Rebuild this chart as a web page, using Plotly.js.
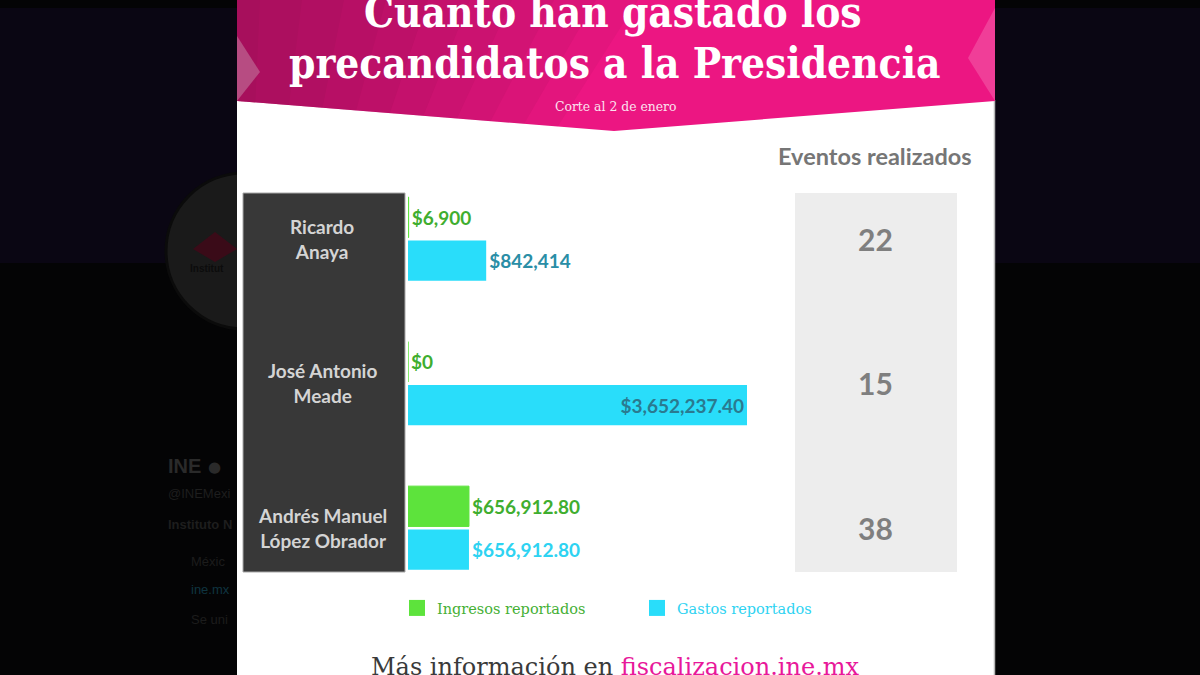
<!DOCTYPE html>
<html>
<head>
<meta charset="utf-8">
<script src="https://cdn.plot.ly/plotly-3.0.1.min.js"></script>
<style>html,body{margin:0;padding:0;background:#040405;}#chart{width:1200px;height:675px;}</style>
</head>
<body>
<div id="chart"></div>
<script>
// ---- data ----
const candidates = ["Ricardo Anaya", "José Antonio Meade", "Andrés Manuel López Obrador"];
const candidateLabels = ["Ricardo<br>Anaya", "José Antonio<br>Meade", "Andrés Manuel<br>López Obrador"];
const ingresos = [6900, 0, 656912.80];
const gastos = [842414, 3652237.40, 656912.80];
const eventos = [22, 15, 38];
const seriesNames = ["Ingresos reportados", "Gastos reportados"];

// ---- helpers ----
const W = 1200, H = 675;
const px = x => x / W;
const py = y => 1 - y / H;
function money(v) {
  const dec = Number.isInteger(v) ? 0 : 2;
  return "$" + v.toLocaleString("en-US", {minimumFractionDigits: dec, maximumFractionDigits: dec});
}
function pth(pts) {
  return "M" + pts.map(p => (p[0] / W) + "," + (1 - p[1] / H)).join(" L") + " Z";
}

const GREEN = "#5de33c", CYAN = "#29ddfa";
const FONT = "Lato, 'Open Sans', sans-serif";
const SERIF = "'DejaVu Serif', serif";
const SERIF_C = "'DejaVu Serif Condensed', 'DejaVu Serif', serif";

const traces = [
  {
    type: "bar", orientation: "h", name: seriesNames[0], showlegend: false,
    y: candidates, x: ingresos,
    marker: {color: GREEN, line: {color: GREEN, width: 1}},
    text: ingresos.map(money), textposition: "outside", cliponaxis: false,
    constraintext: "none",
    textfont: {family: FONT, size: 19, color: "#3fae2f", weight: 700},
    hoverinfo: "skip"
  },
  {
    type: "bar", orientation: "h", name: seriesNames[1], showlegend: false,
    y: candidates, x: gastos,
    marker: {color: CYAN},
    text: gastos.map(money),
    textposition: ["outside", "inside", "outside"], insidetextanchor: "end",
    cliponaxis: false, constraintext: "none",
    textfont: {family: FONT, size: 19, color: ["#2a8ea6", "#2a7a90", "#2ed3f2"], weight: 700},
    hoverinfo: "skip"
  },
  {
    type: "scatter", mode: "markers", x: [null], y: [null],
    name: '<span style="color:#45b035">' + seriesNames[0] + '</span>',
    marker: {symbol: "square", size: 19, color: GREEN}, hoverinfo: "skip"
  },
  {
    type: "scatter", mode: "markers", x: [null], y: [null],
    name: '<span style="color:#2ed3f2">' + seriesNames[1] + '</span>',
    marker: {symbol: "square", size: 19, color: CYAN}, hoverinfo: "skip"
  }
];

const shapes = [
  // dark page background
  {type: "rect", xref: "paper", yref: "paper", x0: 0, x1: 1, y0: 0, y1: 1, fillcolor: "#040405", line: {width: 0}, layer: "below"},
  {type: "rect", xref: "paper", yref: "paper", x0: 0, x1: 1, y0: py(263), y1: py(8), fillcolor: "#0a0613", line: {width: 0}, layer: "below"},
  {type: "circle", xref: "paper", yref: "paper", x0: px(166), x1: px(322), y0: py(329), y1: py(173), fillcolor: "#1a1a1a", line: {color: "#0b0b0b", width: 3}, layer: "below"},
  {type: "path", xref: "paper", yref: "paper", path: pth([[215, 232], [237, 249], [215, 262], [193, 249]]), fillcolor: "#3a0b18", line: {width: 0}, layer: "below"},
  // white card
  {type: "rect", xref: "paper", yref: "paper", x0: px(237), x1: px(995), y0: 0, y1: 1, fillcolor: "#ffffff", line: {width: 0}, layer: "below"},
  {type: "line", xref: "paper", yref: "paper", x0: px(994.5), x1: px(994.5), y0: 0, y1: py(100), line: {color: "#b8b8b8", width: 1.5}, layer: "below"},
  // pink header
  {type: "path", xref: "paper", yref: "paper", path: pth([[237, 0], [995, 0], [995, 101], [614, 131], [237, 101]]), fillcolor: "#ec1682", line: {width: 0}, layer: "below"}
];
// smooth dark gradient on the left of the header
for (let k = 0; k < 10; k++) {
  const w = 260 + k * 42;
  const xb = 237 + (w - 237) * 0.8;
  const yb = 101 + (xb - 237) * 30 / 377;
  shapes.push({type: "path", xref: "paper", yref: "paper", path: pth([[237, 0], [w, 0], [xb, yb], [237, 101]]),
    fillcolor: "#6a083c", opacity: 0.065, line: {width: 0}, layer: "below"});
}
shapes.push(
  {type: "path", xref: "paper", yref: "paper", path: pth([[237, 36], [260, 72], [237, 101]]), fillcolor: "#c88aa8", opacity: 0.5, line: {width: 0}, layer: "below"},
  {type: "path", xref: "paper", yref: "paper", path: pth([[995, 8], [968, 58], [995, 101]]), fillcolor: "#f45aa6", opacity: 0.6, line: {width: 0}, layer: "below"},
  // name panel & events panel
  {type: "rect", xref: "paper", yref: "paper", x0: px(243), x1: px(405), y0: py(572), y1: py(193), fillcolor: "#383838", line: {color: "#a8a8a8", width: 1}, layer: "below"},
  {type: "rect", xref: "paper", yref: "paper", x0: px(795), x1: px(957), y0: py(572), y1: py(193), fillcolor: "#ededed", line: {width: 0}, layer: "below"}
);

const annotations = [
  // faint background page texts
  {xref: "paper", yref: "paper", x: px(166), y: py(466), xanchor: "left", yanchor: "middle", text: "<b>INE</b>", showarrow: false, font: {family: "Liberation Sans, sans-serif", size: 20, color: "#2a2a2a"}},
  {xref: "paper", yref: "paper", x: px(206), y: py(467), xanchor: "left", yanchor: "middle", text: "●", showarrow: false, font: {family: "DejaVu Sans", size: 15, color: "#2a2a2a"}},
  {xref: "paper", yref: "paper", x: px(166), y: py(493), xanchor: "left", yanchor: "middle", text: "@INEMexi", showarrow: false, font: {family: "Liberation Sans, sans-serif", size: 13, color: "#1e1e1e"}},
  {xref: "paper", yref: "paper", x: px(166), y: py(524), xanchor: "left", yanchor: "middle", text: "<b>Instituto N</b>", showarrow: false, font: {family: "Liberation Sans, sans-serif", size: 13, color: "#1e1e1e"}},
  {xref: "paper", yref: "paper", x: px(189), y: py(561), xanchor: "left", yanchor: "middle", text: "Méxic", showarrow: false, font: {family: "Liberation Sans, sans-serif", size: 13, color: "#1c1c1c"}},
  {xref: "paper", yref: "paper", x: px(189), y: py(589), xanchor: "left", yanchor: "middle", text: "ine.mx", showarrow: false, font: {family: "Liberation Sans, sans-serif", size: 13, color: "#0f3440"}},
  {xref: "paper", yref: "paper", x: px(189), y: py(619), xanchor: "left", yanchor: "middle", text: "Se uni", showarrow: false, font: {family: "Liberation Sans, sans-serif", size: 13, color: "#1c1c1c"}},
  {xref: "paper", yref: "paper", x: px(188), y: py(268), xanchor: "left", yanchor: "middle", text: "<b>Institut</b>", showarrow: false, font: {family: "Liberation Sans, sans-serif", size: 10, color: "#0c0c0c"}},
  // title
  {xref: "paper", yref: "paper", x: px(613), y: py(12), xanchor: "center", yanchor: "middle", text: "<b>Cuanto han gastado los</b>", showarrow: false, font: {family: SERIF_C, size: 42, color: "#ffffff"}},
  {xref: "paper", yref: "paper", x: px(614), y: py(64), xanchor: "center", yanchor: "middle", text: "<b>precandidatos a la Presidencia</b>", showarrow: false, font: {family: SERIF_C, size: 42, color: "#ffffff"}},
  {xref: "paper", yref: "paper", x: px(615), y: py(107), xanchor: "center", yanchor: "middle", text: "Corte al 2 de enero", showarrow: false, font: {family: SERIF, size: 12.4, color: "#fbe3ef"}},
  // events header
  {xref: "paper", yref: "paper", x: px(875), y: py(156), xanchor: "center", yanchor: "middle", text: "<b>Eventos realizados</b>", showarrow: false, font: {family: FONT, size: 23.5, color: "#767676"}},
  // footer
  {xref: "paper", yref: "paper", x: px(615), y: py(667), xanchor: "center", yanchor: "middle", text: 'Más información en <span style="color:#e8189a">fiscalizacion.ine.mx</span>', showarrow: false, font: {family: SERIF, size: 24, color: "#3a3a3a"}}
];

candidates.forEach((c, i) => {
  annotations.push({xref: "paper", yref: "y", x: px(322), y: c, xanchor: "center", yanchor: "middle",
    text: "<b>" + candidateLabels[i] + "</b>", showarrow: false, align: "center",
    font: {family: FONT, size: 19, color: "#d4d4d4"}});
  annotations.push({xref: "paper", yref: "y", x: px(875), y: c, xanchor: "center", yanchor: "middle",
    text: "<b>" + eventos[i] + "</b>", showarrow: false,
    font: {family: FONT, size: 30, color: "#7f7f7f"}});
});

const pxPerUnit = 339 / 3652237.4;
const layout = {
  width: W, height: H,
  margin: {l: 0, r: 0, t: 0, b: 0},
  paper_bgcolor: "#040405", plot_bgcolor: "rgba(0,0,0,0)",
  barmode: "group", bargap: 0.4, bargroupgap: 0.07,
  xaxis: {domain: [px(408), px(1008)], range: [0, 600 / pxPerUnit], visible: false, fixedrange: true},
  yaxis: {domain: [py(620), py(150)], type: "category", categoryorder: "array", categoryarray: candidates,
          range: [2.637, -0.616], visible: false, fixedrange: true},
  showlegend: true,
  legend: {orientation: "h", x: px(397), y: py(608), xanchor: "left", yanchor: "middle",
           bgcolor: "rgba(0,0,0,0)", font: {family: SERIF, size: 14.5, color: "#45b035"},
           entrywidth: 195, entrywidthmode: "pixels", itemclick: false, itemdoubleclick: false},
  shapes: shapes,
  annotations: annotations,
  font: {family: FONT}
};

Plotly.newPlot("chart", traces, layout, {displayModeBar: false, staticPlot: true});
</script>
</body>
</html>
